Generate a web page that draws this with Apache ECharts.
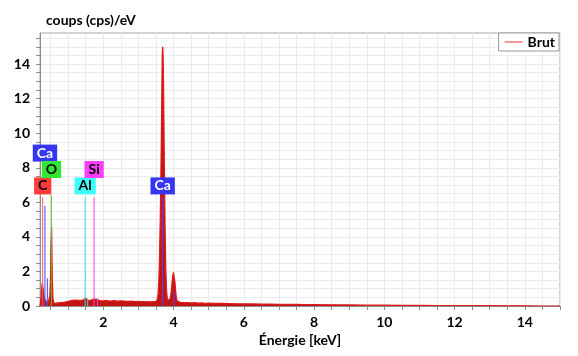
<!DOCTYPE html>
<html>
<head>
<meta charset="utf-8">
<script src="https://cdn.jsdelivr.net/npm/echarts@6/dist/echarts.min.js"></script>
<style>
  html, body { margin: 0; padding: 0; background: #fff; }
  #chart { width: 578px; height: 356px; }
</style>
</head>
<body>
<div id="chart"></div>
<script>
// spectrum (keV, cps/eV)
const energyKeV = [
  0.20, 0.22, 0.24, 0.26, 0.28, 0.30, 0.32, 0.34, 0.36, 0.38, 0.40, 0.42, 0.44, 0.46, 0.48,
  0.50, 0.51, 0.53, 0.55, 0.57, 0.60, 0.65, 0.70, 0.75, 0.80, 0.85, 0.90, 0.95, 1.00, 1.05,
  1.10, 1.15, 1.20, 1.25, 1.30, 1.35, 1.40, 1.45, 1.50, 1.55, 1.60, 1.65, 1.70, 1.75, 1.80,
  1.85, 1.90, 1.95, 2.00, 2.10, 2.20, 2.30, 2.40, 2.50, 2.60, 2.70, 2.80, 2.90, 3.00, 3.10,
  3.20, 3.30, 3.40, 3.50, 3.54, 3.56, 3.58, 3.60, 3.62, 3.64, 3.66, 3.67, 3.68, 3.69, 3.70,
  3.71, 3.72, 3.74, 3.76, 3.78, 3.80, 3.82, 3.84, 3.86, 3.88, 3.90, 3.92, 3.94, 3.96, 3.98,
  4.00, 4.02, 4.04, 4.06, 4.08, 4.10, 4.14, 4.20, 4.30, 4.40, 4.50, 4.60, 4.70, 4.80, 4.90,
  5.00, 5.20, 5.40, 5.60, 5.80, 6.00, 6.25, 6.50, 6.75, 7.00, 7.25, 7.50, 7.75, 8.00, 8.50,
  9.00, 9.50, 10.00, 10.50, 11.00, 11.50, 12.00, 12.50, 13.00, 13.50, 14.00, 14.50, 15.00
];
const countsCps = [
  0.00, 0.10, 0.60, 1.30, 1.40, 0.90, 0.45, 0.55, 0.45, 0.25, 0.15, 0.12, 0.10, 0.15, 0.60,
  1.80, 3.40, 4.60, 1.60, 0.40, 0.15, 0.14, 0.18, 0.17, 0.20, 0.19, 0.22, 0.24, 0.27, 0.38,
  0.32, 0.30, 0.34, 0.31, 0.33, 0.30, 0.32, 0.38, 0.45, 0.36, 0.30, 0.33, 0.38, 0.44, 0.40,
  0.34, 0.31, 0.33, 0.30, 0.32, 0.29, 0.31, 0.28, 0.30, 0.29, 0.27, 0.28, 0.26, 0.27, 0.25,
  0.26, 0.24, 0.25, 0.26, 0.38, 0.70, 1.40, 2.70, 4.80, 7.60, 11.00, 12.90, 14.50, 15.00, 14.80,
  13.80, 12.20, 8.20, 4.60, 2.20, 1.00, 0.50, 0.32, 0.28, 0.30, 0.40, 0.60, 0.95, 1.40, 1.80,
  1.95, 1.85, 1.40, 0.90, 0.50, 0.30, 0.22, 0.20, 0.19, 0.20, 0.18, 0.19, 0.17, 0.18, 0.16,
  0.17, 0.15, 0.15, 0.14, 0.13, 0.13, 0.12, 0.11, 0.11, 0.10, 0.09, 0.09, 0.08, 0.08, 0.07,
  0.06, 0.05, 0.05, 0.04, 0.04, 0.03, 0.03, 0.03, 0.02, 0.01, 0.01, 0.00, 0.00
];

const xTickValues = [0.5, 1, 1.5, 2, 2.5, 3, 3.5, 4, 4.5, 5, 5.5, 6, 6.5, 7, 7.5, 8, 8.5, 9, 9.5, 10,
  10.5, 11, 11.5, 12, 12.5, 13, 13.5, 14, 14.5, 15];
const xLabelValues = [2, 4, 6, 8, 10, 12, 14];
const yTickValues = [0, 0.5, 1, 1.5, 2, 2.5, 3, 3.5, 4, 4.5, 5, 5.5, 6, 6.5, 7, 7.5, 8, 8.5, 9, 9.5,
  10, 10.5, 11, 11.5, 12, 12.5, 13, 13.5, 14, 14.5, 15, 15.5];
const yLabelValues = [0, 2, 4, 6, 8, 10, 12, 14];

// element markers
const elementNames = ['C', 'Ca', 'O', 'Al', 'Si', 'Ca'];
const elementKeV = [0.277, 0.341, 0.525, 1.486, 1.740, 3.691];
const elementLineTop = [6.3, 5.8, 6.4, 6.3, 6.3, 6.3];
const elementLabelRow = [0, 2, 1, 0, 1, 0];
const extraLineElement = ['Ca', 'Al', 'Si', 'Ca'];
const extraLineKeV = [0.41, 1.557, 1.836, 4.012];
const extraLineTop = [1.6, 0.4, 0.4, 0.8];

const boxColors = { C: '#ff3c3c', Ca: '#3535f5', O: '#33e633', Al: '#3cffff', Si: '#ff3cff' };
const lineColors = { C: '#ff5a5a', Ca: '#4848ff', O: '#5cc02a', Al: '#30dada', Si: '#ee44ee' };
const textColors = { C: '#000', Ca: '#fff', O: '#000', Al: '#000', Si: '#000' };

const font = 'Lato';
const chart = echarts.init(document.getElementById('chart'));

const series = [{
  name: 'Brut',
  type: 'line',
  data: energyKeV.map((e, i) => [e, countsCps[i]]),
  symbol: 'none',
  lineStyle: { color: '#dc1c1c', width: 1.2 },
  areaStyle: { color: '#c41515', opacity: 1 },
  z: 2
}];

elementNames.forEach((el, i) => {
  series.push({
    type: 'line', symbol: 'none', silent: true, z: 3,
    data: [[elementKeV[i], 0], [elementKeV[i], elementLineTop[i]]],
    lineStyle: { color: lineColors[el], width: 1 }
  });
});
extraLineElement.forEach((el, i) => {
  series.push({
    type: 'line', symbol: 'none', silent: true, z: 3,
    data: [[extraLineKeV[i], 0], [extraLineKeV[i], extraLineTop[i]]],
    lineStyle: { color: lineColors[el], width: 1 }
  });
});

series.push({
  type: 'scatter', symbolSize: 0, silent: true, z: 5,
  itemStyle: { opacity: 1 },
  data: elementNames.map((el, i) => ({
    value: [elementKeV[i], 6.95 + elementLabelRow[i] * 0.95],
    name: el,
    label: { backgroundColor: boxColors[el], color: textColors[el] }
  })),
  label: {
    show: true, position: 'inside', formatter: '{b}',
    fontFamily: font, fontWeight: 'bold', fontSize: 14,
    padding: [2, 4, 1, 4]
  }
});

const option = {
  animation: false,
  title: {
    text: 'coups (cps)/eV', left: 41, top: 8,
    textStyle: { fontFamily: font, fontWeight: 'bold', fontSize: 14, color: '#000' }
  },
  legend: {
    data: [{ name: 'Brut', icon: 'rect' }],
    right: 19, top: 33,
    backgroundColor: '#fff', borderColor: '#999', borderWidth: 1,
    padding: [2, 4, 2, 6], itemWidth: 18, itemHeight: 1.5, itemGap: 4,
    itemStyle: { color: '#f07878' },
    textStyle: { fontFamily: font, fontWeight: 'bold', fontSize: 14, color: '#000' }
  },
  grid: { left: 40, right: 18, top: 33, bottom: 50, show: true, borderColor: '#a8a8a8', borderWidth: 1 },
  xAxis: {
    type: 'value', min: 0.2, max: 15,
    name: 'Énergie [keV]', nameLocation: 'middle', nameGap: 26,
    nameTextStyle: { fontFamily: font, fontWeight: 'bold', fontSize: 14, color: '#000' },
    axisLine: { show: true, lineStyle: { color: '#8c8c8c' } },
    axisTick: { show: true, customValues: xTickValues, length: 4, lineStyle: { color: '#8c8c8c' } },
    axisLabel: { customValues: xLabelValues, fontFamily: font, fontWeight: 'bold', fontSize: 14, color: '#000', margin: 9 },
    splitLine: { show: true, lineStyle: { color: '#ececec' } }
  },
  yAxis: {
    type: 'value', min: 0, max: 15.8,
    axisLine: { show: true, lineStyle: { color: '#8c8c8c' } },
    axisTick: { show: true, customValues: yTickValues, length: 4, lineStyle: { color: '#8c8c8c' } },
    axisLabel: { customValues: yLabelValues, fontFamily: font, fontWeight: 'bold', fontSize: 14, color: '#000', margin: 10 },
    splitLine: { show: true, lineStyle: { color: '#ececec' } }
  },
  series: series
};
chart.setOption(option);
</script>
</body>
</html>
